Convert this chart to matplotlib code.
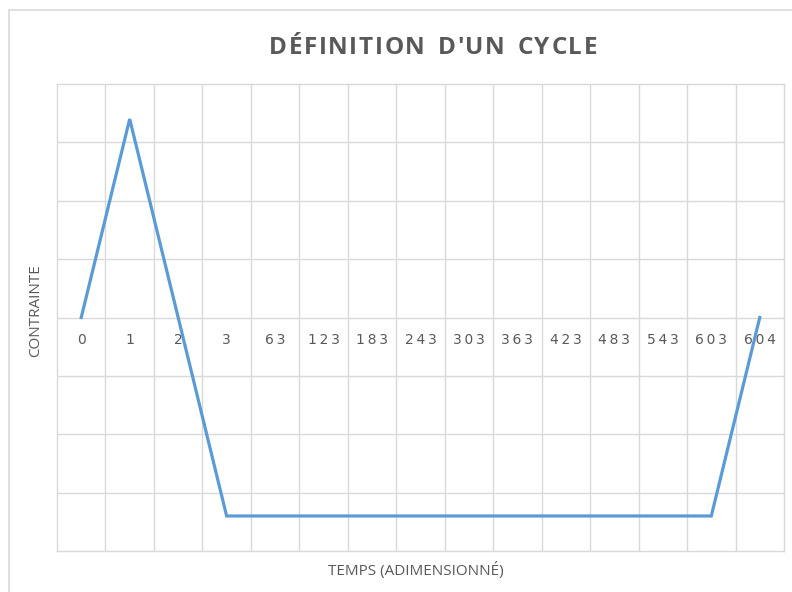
import matplotlib
matplotlib.use("Agg")
import matplotlib.pyplot as plt
from matplotlib.patches import Rectangle
from matplotlib.transforms import offset_copy

categories = ["0", "1", "2", "3", "63", "123", "183", "243", "303", "363",
              "423", "483", "543", "603", "604"]
contrainte = [0.0, 3.4, 0.0, -3.4, -3.4, -3.4, -3.4, -3.4, -3.4, -3.4,
              -3.4, -3.4, -3.4, -3.4, 0.0]
title = "DÉFINITION D'UN CYCLE"
xlabel = "TEMPS (ADIMENSIONNÉ)"
ylabel = "CONTRAINTE"

W, H = 792, 592
fig = plt.figure(figsize=(W / 100, H / 100), dpi=100)
fig.patch.set_facecolor("white")
renderer = fig.canvas.get_renderer()

# chart border (right and bottom sides are outside the image)
fig.add_artist(Rectangle((9 / W, -0.2), 1.2, 1.2 - 10 / H, transform=fig.transFigure,
                         fill=False, edgecolor="#D9D9D9", linewidth=1.2))

left, right, top, bottom = 57, 784, 84, 551
ax = fig.add_axes([left / W, 1 - bottom / H, (right - left) / W, (bottom - top) / H])

n = len(categories)
x = list(range(n))
ax.set_xlim(-0.5, n - 0.5)
ax.set_ylim(-4, 4)

grid_c = "#D9D9D9"
for spine in ax.spines.values():
    spine.set_color(grid_c)
    spine.set_linewidth(1.0)
ax.set_xticks([i - 0.5 for i in range(1, n)])
ax.set_yticks(range(-3, 4))
ax.grid(True, color=grid_c, linewidth=1.0)
ax.tick_params(length=0, labelbottom=False, labelleft=False)
ax.set_axisbelow(True)

ax.plot(x, contrainte, color="#5B9BD5", linewidth=2.3, solid_joinstyle="miter", zorder=3)

txt_c = "#595959"
trans = offset_copy(ax.transData, fig=fig, x=0, y=-22, units="dots")
for i, lab in enumerate(categories):
    ax.text(i, 0, "\u2009".join(lab), transform=trans, ha="center", va="center",
            fontsize=10, color=txt_c, family="DejaVu Sans", zorder=2)


def spaced_text(s, cx, cy, spacing, **kw):
    """Draw text centred at pixel (cx, cy from top) with extra letter spacing."""
    widths = []
    for ch in s:
        t = fig.text(0, 0, ch if ch != " " else "n", **kw)
        w = t.get_window_extent(renderer).width
        if ch == " ":
            w *= 0.6
        widths.append(w)
        t.remove()
    total = sum(widths) + spacing * (len(s) - 1)
    xpos = cx - total / 2
    for ch, w in zip(s, widths):
        if ch != " ":
            fig.text(xpos / W, 1 - cy / H, ch, ha="left", va="center", **kw)
        xpos += w + spacing


spaced_text(title, 433, 48, 1.6, fontsize=17.5, fontweight="bold", color=txt_c,
            family="Open Sans")
fig.text(416 / W, 1 - 571 / H, xlabel, ha="center", va="center", fontsize=11,
         color=txt_c, family="Open Sans")
fig.text(36 / W, 1 - 311 / H, ylabel, ha="center", va="center", rotation=90,
         fontsize=11, color=txt_c, family="Open Sans")

fig.savefig("out.png", dpi=100, facecolor="white")
